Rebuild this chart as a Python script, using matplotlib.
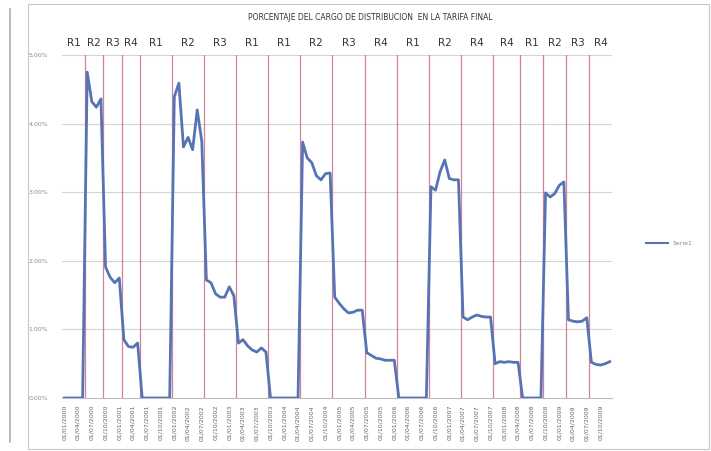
import matplotlib
matplotlib.use("Agg")
import matplotlib.pyplot as plt
from matplotlib.patches import Rectangle
from matplotlib.lines import Line2D

# ---------------- data ----------------
title = "PORCENTAJE DEL CARGO DE DISTRIBUCION  EN LA TARIFA FINAL"
series_name = "Serie1"

values = [
    0.00, 0.00, 0.00, 0.00, 0.00,                      # R1
    4.75, 4.32, 4.24, 4.36,                            # R2
    1.91, 1.76, 1.68, 1.75,                            # R3
    0.85, 0.75, 0.74, 0.80,                            # R4
    0.00, 0.00, 0.00, 0.00, 0.00, 0.00, 0.00,          # R1
    4.39, 4.59, 3.66, 3.80, 3.62, 4.20, 3.74,          # R2
    1.72, 1.68, 1.52, 1.47, 1.47, 1.62, 1.49,          # R3
    0.80, 0.85, 0.76, 0.70, 0.67, 0.73, 0.67,          # R4
    0.00, 0.00, 0.00, 0.00, 0.00, 0.00, 0.00,          # R1
    3.73, 3.50, 3.43, 3.24, 3.18, 3.27, 3.28,          # R2
    1.47, 1.38, 1.30, 1.24, 1.25, 1.28, 1.28,          # R3
    0.66, 0.62, 0.58, 0.57, 0.55, 0.55, 0.55,          # R4
    0.00, 0.00, 0.00, 0.00, 0.00, 0.00, 0.00,          # R1
    3.08, 3.03, 3.30, 3.47, 3.20, 3.18, 3.18,          # R2
    1.18, 1.14, 1.18, 1.21, 1.19, 1.18, 1.18,          # R3
    0.50, 0.53, 0.52, 0.53, 0.52, 0.52,                # R4
    0.00, 0.00, 0.00, 0.00, 0.00,                      # R1
    2.99, 2.93, 2.98, 3.10, 3.15,                      # R2
    1.14, 1.12, 1.11, 1.12, 1.17,                      # R3
    0.52, 0.49, 0.48, 0.50, 0.53,                      # R4
]

region_labels = ["R1", "R2", "R3", "R4", "R1", "R2", "R3", "R1", "R1", "R2",
                 "R3", "R4", "R1", "R2", "R4", "R4", "R1", "R2", "R3", "R4"]
region_bounds = [4.5, 8.5, 12.5, 16.5, 23.5, 30.5, 37.5, 44.5, 51.5, 58.5,
                 65.5, 72.5, 79.5, 86.5, 93.5, 99.5, 104.5, 109.5, 114.5]

y_ticks = [0, 1, 2, 3, 4, 5]
y_tick_labels = ["0.00%", "1.00%", "2.00%", "3.00%", "4.00%", "5.00%"]

x_tick_labels = [
    "01/01/2000", "01/04/2000", "01/07/2000", "01/10/2000",
    "01/01/2001", "01/04/2001", "01/07/2001", "01/10/2001",
    "01/01/2002", "01/04/2002", "01/07/2002", "01/10/2002",
    "01/01/2003", "01/04/2003", "01/07/2003", "01/10/2003",
    "01/01/2004", "01/04/2004", "01/07/2004", "01/10/2004",
    "01/01/2005", "01/04/2005", "01/07/2005", "01/10/2005",
    "01/01/2006", "01/04/2006", "01/07/2006", "01/10/2006",
    "01/01/2007", "01/04/2007", "01/07/2007", "01/10/2007",
    "01/01/2008", "01/04/2008", "01/07/2008", "01/10/2008",
    "01/01/2009", "01/04/2009", "01/07/2009", "01/10/2009",
]

# ---------------- figure ----------------
W, H = 711, 451
fig = plt.figure(figsize=(W / 100, H / 100), dpi=100)
fig.patch.set_facecolor("white")

# faint scanned frame
fig.patches.append(Rectangle((28 / W, 2 / H), (W - 30) / W, (H - 6) / H,
                             transform=fig.transFigure, fill=False,
                             edgecolor="#c8c8c8", linewidth=0.8))
fig.add_artist(Line2D([10 / W, 10 / W], [0.02, 0.98], transform=fig.transFigure,
                      color="#b0b0b0", linewidth=1.2))

ax = fig.add_axes([62 / W, 1 - 398 / H, (612 - 62) / W, (398 - 55) / H])
n = len(values)
x = list(range(n))

ax.set_xlim(-0.5, n - 0.5)
ax.set_ylim(0, 5)

for yt in y_ticks[1:]:
    ax.axhline(yt, color="#d4d4d4", linewidth=0.8, zorder=0)

for b in region_bounds:
    ax.axvline(b, color="#c9627a", linewidth=0.9, alpha=0.8, zorder=1)

line_color = "#5673b6"
ax.plot(x, values, color=line_color, linewidth=2.0, zorder=3)

ax.set_yticks(y_ticks)
ax.set_yticklabels(y_tick_labels, fontsize=4.5, color="#8a8a8a")
tick_pos = list(range(0, n, 3))
ax.set_xticks(tick_pos)
ax.set_xticklabels(x_tick_labels[:len(tick_pos)], rotation=90, fontsize=4.5, color="#666666")
ax.tick_params(axis="y", length=0, pad=10)
ax.tick_params(axis="x", length=0, pad=5)

for s in ["top", "right", "left"]:
    ax.spines[s].set_visible(False)
ax.spines["bottom"].set_color("#bdbdbd")
ax.spines["bottom"].set_linewidth(0.8)

# region labels above the plot
edges = [-0.5] + region_bounds + [n - 0.5]
for i, lab in enumerate(region_labels):
    cx = (edges[i] + edges[i + 1]) / 2
    ax.text(cx, 1.035, lab, transform=ax.get_xaxis_transform(), ha="center", va="center",
            fontsize=7.5, color="#333333")

fig.text(370 / W, 1 - 18 / H, title, ha="center", va="center", fontsize=5.5, color="#333333")

handle = Line2D([], [], color=line_color, linewidth=1.5)
fig.legend(handles=[handle], labels=[series_name], loc="center left",
           bbox_to_anchor=(640 / W, 1 - 243 / H), frameon=False, fontsize=4.5,
           handlelength=3.5, labelcolor="#8a8a8a")

fig.savefig("out.png", dpi=100, facecolor="white")
